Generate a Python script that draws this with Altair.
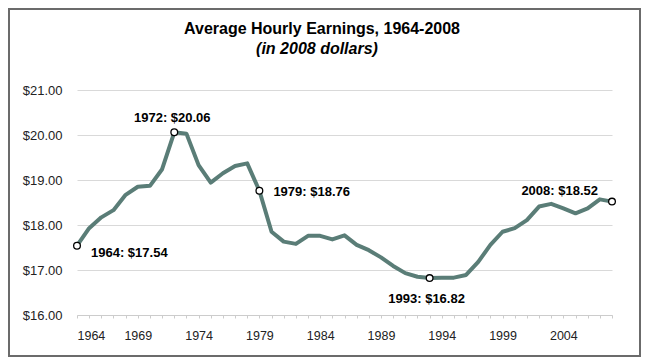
import altair as alt
import pandas as pd

years = list(range(1964, 2009))
earnings = [17.54, 17.93, 18.17, 18.33, 18.67, 18.85, 18.87, 19.24, 20.06, 20.03,
            19.33, 18.94, 19.15, 19.31, 19.37, 18.76, 17.85, 17.63, 17.58, 17.76,
            17.76, 17.68, 17.77, 17.56, 17.44, 17.28, 17.09, 16.93, 16.85, 16.82,
            16.83, 16.83, 16.89, 17.18, 17.56, 17.85, 17.93, 18.11, 18.41, 18.47,
            18.37, 18.26, 18.37, 18.57, 18.52]
label_years = [1964, 1972, 1979, 1993, 2008]
label_texts = ["1964: $17.54", "1972: $20.06", "1979: $18.76", "1993: $16.82", "2008: $18.52"]
y_ticks = [16, 17, 18, 19, 20, 21]
title_text = "Average Hourly Earnings, 1964-2008"
subtitle_text = "(in 2008 dollars)"

df = pd.DataFrame({"year": years, "value": earnings})
lab = pd.DataFrame({"year": label_years, "text": label_texts})
lab["value"] = [earnings[years.index(y)] for y in label_years]

FONT = "Liberation Sans"
W, H = 535, 225

x_enc = alt.X("year:Q", title=None,
              scale=alt.Scale(domain=[1964, 2008], nice=False, zero=False),
              axis=alt.Axis(values=years, format="d", labelOverlap=False,
                            labelExpr="(datum.value - 1964) % 5 == 0 ? datum.label : ''",
                            grid=False, domainColor="#cccccc", tickColor="#cccccc",
                            tickSize=3, labelPadding=11, labelFontSize=12.5,
                            labelColor="#222222", labelFont=FONT))
y_enc = alt.Y("value:Q", title=None,
              scale=alt.Scale(domain=[16, 21], nice=False, zero=False),
              axis=alt.Axis(values=y_ticks, format="$.2f", domain=False, ticks=False,
                            tickSize=0, gridColor="#d9d9d9", labelPadding=15,
                            labelFontSize=13, labelColor="#222222", labelFont=FONT))

line = alt.Chart(df).mark_line(color="#5a7d77", strokeWidth=4, strokeJoin="round").encode(
    x=x_enc, y=y_enc)

pts = alt.Chart(lab).mark_point(shape="circle", filled=True, fill="white", stroke="black",
                                strokeWidth=1.3, size=45, opacity=1).encode(x=x_enc, y=y_enc)

offsets = {1964: ("left", 14, 7), 1972: ("center", -2, -14), 1979: ("left", 14, 1),
           1993: ("center", -3, 21), 2008: ("right", -14, -11)}
texts = []
for yr in label_years:
    al, dx, dy = offsets[yr]
    texts.append(alt.Chart(lab).transform_filter(alt.datum.year == yr).mark_text(
        align=al, baseline="middle", dx=dx, dy=dy, font=FONT, fontSize=13,
        fontWeight="bold", color="black").encode(x=x_enc, y=y_enc, text="text:N"))

one = alt.Data(values=[{}])
frame = alt.Chart(one).mark_rect(
    fillOpacity=0, stroke="#6b6b6b", strokeWidth=2).encode(
    x=alt.value(-68), x2=alt.value(563), y=alt.value(-81), y2=alt.value(266))

title = alt.Chart(one).mark_text(
    text=title_text, align="center", baseline="alphabetic", font=FONT, fontSize=16,
    fontWeight="bold", color="black").encode(x=alt.value(245), y=alt.value(-56))
subtitle = alt.Chart(one).mark_text(
    text=subtitle_text, align="center", baseline="alphabetic", font=FONT, fontSize=16,
    fontWeight="bold", fontStyle="italic", color="black").encode(x=alt.value(240), y=alt.value(-36))

chart = alt.layer(frame, title, subtitle, line, pts, *texts).properties(
    width=W, height=H,
    padding={"left": 69, "top": 82, "right": 30, "bottom": 42},
    autosize="none",
    background="white",
).configure_view(stroke=None).configure_axis(labelOverlap=False)

chart.save("out.html", embed_options={"renderer": "svg", "actions": False})
